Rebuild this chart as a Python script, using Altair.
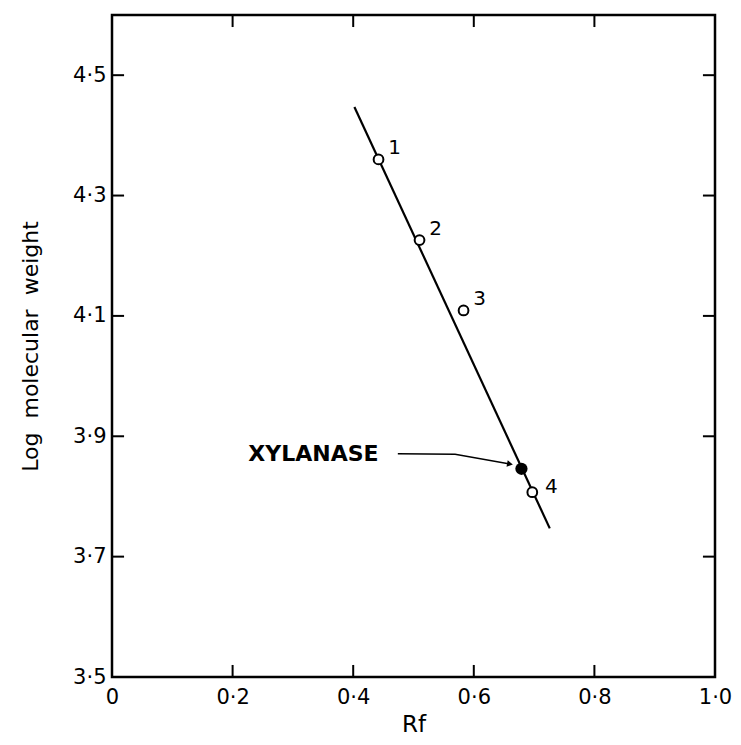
import altair as alt
import pandas as pd

# ---- data ----
marker_labels = ["1", "2", "3", "4"]
marker_rf = [0.442, 0.510, 0.583, 0.697]
marker_logmw = [4.360, 4.226, 4.109, 3.807]

xylanase_rf = [0.679]
xylanase_logmw = [3.846]

fit_rf = [0.402, 0.726]
fit_logmw = [4.447, 3.747]

arrow_rf = [0.474, 0.569, 0.660]
arrow_logmw = [3.871, 3.870, 3.854]
arrow_label = ["XYLANASE"]
arrow_label_rf = [0.226]
arrow_label_logmw = [3.870]

x_ticks = [0.2, 0.4, 0.6, 0.8]
y_ticks = [3.7, 3.9, 4.1, 4.3, 4.5]
x_label_values = [0, 0.2, 0.4, 0.6, 0.8, 1.0]
y_label_values = [3.5, 3.7, 3.9, 4.1, 4.3, 4.5]

X_DOM = [0, 1.0]
Y_DOM = [3.5, 4.6]
TICK_X = 0.02   # inward tick length in x units
TICK_Y = 0.02   # inward tick length in y units

FONT = "DejaVu Sans"

x_scale = alt.Scale(domain=X_DOM, nice=False, zero=False)
y_scale = alt.Scale(domain=Y_DOM, nice=False, zero=False)

x_axis = alt.Axis(
    values=x_label_values, grid=False, domain=False, ticks=False, labelFlush=False,
    labelExpr="datum.value == 0 ? '0' : replace(format(datum.value, '.1f'), '.', '·')",
    labelFont=FONT, labelFontSize=21, labelColor="black", labelPadding=9,
    title="Rf", titleFont=FONT, titleFontSize=23, titleFontWeight="normal",
    titleColor="black", titlePadding=6,
)
y_axis = alt.Axis(
    values=y_label_values, grid=False, domain=False, ticks=False, labelFlush=False,
    labelExpr="replace(format(datum.value, '.1f'), '.', '·')",
    labelFont=FONT, labelFontSize=21, labelColor="black", labelPadding=6,
    title="Log\u00a0\u00a0molecular\u00a0\u00a0weight", titleFont=FONT, titleFontSize=22,
    titleFontWeight="normal", titleColor="black", titlePadding=30,
)

def X(field="x"):
    return alt.X(f"{field}:Q", scale=x_scale, axis=x_axis)

def Y(field="y"):
    return alt.Y(f"{field}:Q", scale=y_scale, axis=y_axis)

markers = pd.DataFrame({"x": marker_rf, "y": marker_logmw, "label": marker_labels})
fit = pd.DataFrame({"x": fit_rf, "y": fit_logmw})
xyl = pd.DataFrame({"x": xylanase_rf, "y": xylanase_logmw})
arrow = pd.DataFrame({"x": arrow_rf, "y": arrow_logmw, "order": list(range(len(arrow_rf)))})
arrow_head = pd.DataFrame({"x": arrow_rf[-1:], "y": arrow_logmw[-1:]})
arrow_text = pd.DataFrame({"x": arrow_label_rf, "y": arrow_label_logmw, "label": arrow_label})

xt = pd.DataFrame({"x": x_ticks})
yt = pd.DataFrame({"y": y_ticks})

fit_line = alt.Chart(fit).mark_line(color="black", strokeWidth=2.2).encode(x=X(), y=Y())

bottom_ticks = alt.Chart(xt).transform_calculate(
    y=f"{Y_DOM[0]}", y2=f"{Y_DOM[0] + TICK_Y}"
).mark_rule(color="black", strokeWidth=2).encode(x=X(), y=Y(), y2="y2:Q")
top_ticks = alt.Chart(xt).transform_calculate(
    y=f"{Y_DOM[1]}", y2=f"{Y_DOM[1] - TICK_Y}"
).mark_rule(color="black", strokeWidth=2).encode(x=X(), y=Y(), y2="y2:Q")
left_ticks = alt.Chart(yt).transform_calculate(
    x=f"{X_DOM[0]}", x2=f"{X_DOM[0] + TICK_X}"
).mark_rule(color="black", strokeWidth=2).encode(x=X(), x2="x2:Q", y=Y())
right_ticks = alt.Chart(yt).transform_calculate(
    x=f"{X_DOM[1]}", x2=f"{X_DOM[1] - TICK_X}"
).mark_rule(color="black", strokeWidth=2).encode(x=X(), x2="x2:Q", y=Y())

open_pts = alt.Chart(markers).mark_point(
    shape="circle", filled=True, fill="white", stroke="black", strokeWidth=2,
    size=95, opacity=1
).encode(x=X(), y=Y())

labels_a = alt.Chart(markers).transform_filter("datum.label != '4'").mark_text(
    font=FONT, fontSize=20, color="black", dx=16, dy=-11
).encode(x=X(), y=Y(), text="label:N")
labels_b = alt.Chart(markers).transform_filter("datum.label == '4'").mark_text(
    font=FONT, fontSize=20, color="black", dx=19, dy=-5
).encode(x=X(), y=Y(), text="label:N")

xyl_pt = alt.Chart(xyl).mark_point(
    shape="circle", filled=True, color="black", size=150, opacity=1
).encode(x=X(), y=Y())

arrow_line = alt.Chart(arrow).mark_line(color="black", strokeWidth=1.5).encode(
    x=X(), y=Y(), order="order:Q"
)
arrow_tip = alt.Chart(arrow_head).mark_point(
    shape="triangle-right", filled=True, color="black", size=45, angle=10, opacity=1
).encode(x=X(), y=Y())
arrow_txt = alt.Chart(arrow_text).mark_text(
    font=FONT, fontSize=22, fontWeight="bold", color="black", align="left", baseline="middle"
).encode(x=X(), y=Y(), text="label:N")

chart = alt.layer(
    fit_line, bottom_ticks, top_ticks, left_ticks, right_ticks,
    arrow_line, arrow_tip, arrow_txt, open_pts, xyl_pt, labels_a, labels_b
).properties(
    width=603, height=662,
    autosize=alt.AutoSizeParams(type="none"),
    padding={"left": 112, "top": 15, "right": 26, "bottom": 68},
    background="white",
).configure_view(stroke="black", strokeWidth=2.5)

chart.save("out.html", embed_options={"renderer": "svg", "actions": False})
